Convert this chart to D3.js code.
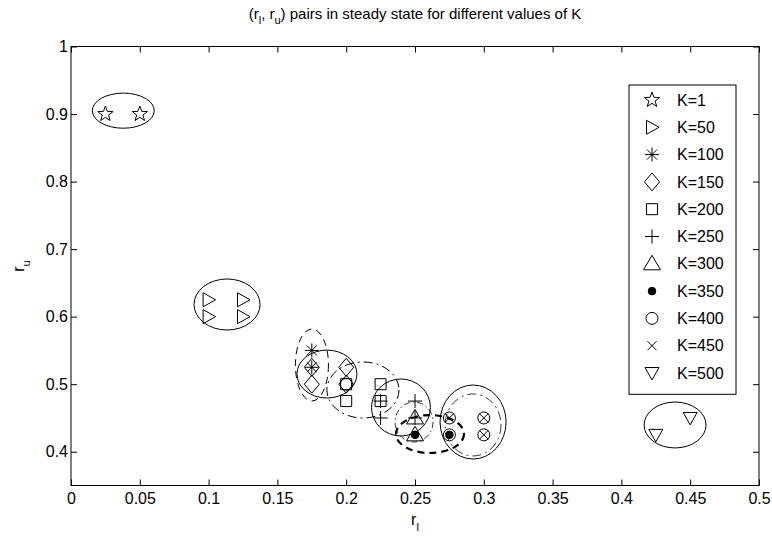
<!DOCTYPE html>
<html>
<head>
<meta charset="utf-8">
<script src="https://cdn.jsdelivr.net/npm/d3@7"></script>
<style>
  body { margin: 0; background: #fff; }
  svg text { font-family: "Liberation Sans", Arial, Helvetica, sans-serif; fill: #000; }
</style>
</head>
<body>
<div id="chart"></div>
<script>
// chart data
const kLabels = ["K=1", "K=50", "K=100", "K=150", "K=200", "K=250", "K=300", "K=350", "K=400", "K=450", "K=500"];
const markerKinds = ["star", "tri-right", "asterisk", "diamond", "square", "plus", "tri-up", "dot", "circle", "cross", "tri-down"];

// (r_l, r_u) pairs for each K
const ptsK1   = [[0.025, 0.9], [0.05, 0.9]];
const ptsK50  = [[0.1, 0.6], [0.1, 0.625], [0.125, 0.6], [0.125, 0.625]];
const ptsK100 = [[0.175, 0.55], [0.175, 0.525]];
const ptsK150 = [[0.175, 0.525], [0.175, 0.5], [0.2, 0.525], [0.2, 0.5]];
const ptsK200 = [[0.2, 0.5], [0.2, 0.475], [0.225, 0.5], [0.225, 0.475]];
const ptsK250 = [[0.225, 0.475], [0.225, 0.45], [0.25, 0.475], [0.25, 0.45]];
const ptsK300 = [[0.25, 0.45], [0.25, 0.425]];
const ptsK350 = [[0.25, 0.425], [0.275, 0.425]];
const ptsK400 = [[0.2, 0.5], [0.275, 0.45], [0.3, 0.45], [0.275, 0.425], [0.3, 0.425]];
const ptsK450 = [[0.275, 0.45], [0.3, 0.45], [0.3, 0.425]];
const ptsK500 = [[0.425, 0.425], [0.45, 0.45]];

// ellipses drawn round each group (centre and radii in data units)
const ellCx = [0.038, 0.1134, 0.1751, 0.186, 0.2122, 0.2398, 0.2493, 0.2609, 0.2922, 0.2922, 0.439];
const ellCy = [0.905, 0.618, 0.5284, 0.515, 0.4914, 0.4655, 0.444, 0.4262, 0.444, 0.4396, 0.4396];
const ellRx = [0.0225, 0.024, 0.012, 0.0218, 0.0262, 0.0214, 0.0138, 0.0247, 0.024, 0.0203, 0.0225];
const ellRy = [0.026, 0.0378, 0.0533, 0.0355, 0.0415, 0.0422, 0.0296, 0.0281, 0.0548, 0.0459, 0.034];

const xTicks = [0, 0.05, 0.1, 0.15, 0.2, 0.25, 0.3, 0.35, 0.4, 0.45, 0.5];
const yTicks = [0.4, 0.5, 0.6, 0.7, 0.8, 0.9, 1];

const allPts = [ptsK1, ptsK50, ptsK100, ptsK150, ptsK200, ptsK250, ptsK300, ptsK350, ptsK400, ptsK450, ptsK500];

const W = 772, H = 539;
const margin = {top: 46.5, right: 13, bottom: 53.5, left: 71};
const width = W - margin.left - margin.right,
      height = H - margin.top - margin.bottom;
const fs = 16;

const svg = d3.select("#chart")
    .append("svg")
    .attr("width", W)
    .attr("height", H);

const g = svg.append("g")
    .attr("transform", `translate(${margin.left}, ${margin.top})`);

const x = d3.scaleLinear().domain([0, 0.5]).range([0, width]);
const y = d3.scaleLinear().domain([0.35, 1]).range([height, 0]);

// marker shapes, in pixels round (0,0)
function markerPath(kind) {
    const p = d3.path();
    if (kind == "star") {
        const R = 8, r = 3.3;
        for (let i = 0; i < 10; i++) {
            const a = -Math.PI / 2 + i * Math.PI / 5;
            const rr = i % 2 == 0 ? R : r;
            if (i == 0) p.moveTo(rr * Math.cos(a), rr * Math.sin(a));
            else p.lineTo(rr * Math.cos(a), rr * Math.sin(a));
        }
        p.closePath();
    } else if (kind == "tri-right") {
        p.moveTo(-5.5, -7); p.lineTo(7, 0); p.lineTo(-5.5, 7); p.closePath();
    } else if (kind == "tri-up") {
        p.moveTo(0, -8.5); p.lineTo(8.5, 6); p.lineTo(-8.5, 6); p.closePath();
    } else if (kind == "tri-down") {
        p.moveTo(-7, -5.5); p.lineTo(7, -5.5); p.lineTo(0, 7); p.closePath();
    } else if (kind == "diamond") {
        p.moveTo(0, -9); p.lineTo(7.5, 0); p.lineTo(0, 9); p.lineTo(-7.5, 0); p.closePath();
    } else if (kind == "square") {
        p.rect(-5.5, -5.5, 11, 11);
    } else if (kind == "plus") {
        p.moveTo(-7, 0); p.lineTo(7, 0); p.moveTo(0, -7); p.lineTo(0, 7);
    } else if (kind == "cross") {
        p.moveTo(-4.5, -4.5); p.lineTo(4.5, 4.5); p.moveTo(-4.5, 4.5); p.lineTo(4.5, -4.5);
    } else if (kind == "asterisk") {
        p.moveTo(-7, 0); p.lineTo(7, 0); p.moveTo(0, -7); p.lineTo(0, 7);
        p.moveTo(-5, -5); p.lineTo(5, 5); p.moveTo(-5, 5); p.lineTo(5, -5);
    } else if (kind == "circle") {
        p.moveTo(6, 0); p.arc(0, 0, 6, 0, 2 * Math.PI);
    } else if (kind == "dot") {
        p.moveTo(3.8, 0); p.arc(0, 0, 3.8, 0, 2 * Math.PI);
    }
    return p.toString();
}

// ellipse line styles per K
const ellDash = ["", "", "7,5", "", "9,4,2,4", "", "6,3,1.5,3", "7,5", "", "9,4,2,4", ""];
const ellWidth = [1, 1, 1, 1, 1, 1, 0.8, 2.2, 1, 0.8, 1];

// axes box with ticks pointing inward, ticks on all four sides
const tickLen = 6;
g.append("g")
    .attr("transform", `translate(0, ${height})`)
    .call(d3.axisBottom(x).tickValues(xTicks).tickSizeInner(-tickLen).tickSizeOuter(0).tickPadding(7)
        .tickFormat(d => d3.format("")(d)))
    .call(a => a.select(".domain").remove())
    .call(a => a.selectAll("text").attr("font-size", fs));

g.append("g")
    .call(d3.axisTop(x).tickValues(xTicks).tickSizeInner(-tickLen).tickSizeOuter(0).tickFormat(""))
    .call(a => a.select(".domain").remove());

g.append("g")
    .call(d3.axisLeft(y).tickValues(yTicks).tickSizeInner(-tickLen).tickSizeOuter(0).tickPadding(3)
        .tickFormat(d => d3.format("")(d)))
    .call(a => a.select(".domain").remove())
    .call(a => a.selectAll("text").attr("font-size", fs));

g.append("g")
    .attr("transform", `translate(${width}, 0)`)
    .call(d3.axisRight(y).tickValues(yTicks).tickSizeInner(-tickLen).tickSizeOuter(0).tickFormat(""))
    .call(a => a.select(".domain").remove());

g.selectAll(".tick line").attr("stroke", "#000");

g.append("rect")
    .attr("width", width)
    .attr("height", height)
    .attr("fill", "none")
    .attr("stroke", "#000")
    .attr("stroke-width", 1);

// ellipses
g.selectAll(".ell")
    .data(d3.range(ellCx.length))
    .enter().append("ellipse")
    .attr("class", "ell")
    .attr("cx", i => x(ellCx[i]))
    .attr("cy", i => y(ellCy[i]))
    .attr("rx", i => x(ellRx[i]) - x(0))
    .attr("ry", i => y(0) - y(ellRy[i]))
    .attr("fill", "none")
    .attr("stroke", "#000")
    .attr("stroke-width", i => ellWidth[i])
    .attr("stroke-dasharray", i => ellDash[i] || null);

// markers
allPts.forEach(function(pts, k) {
    const kind = markerKinds[k];
    g.selectAll(".m" + k)
        .data(pts)
        .enter().append("path")
        .attr("class", "m" + k)
        .attr("transform", d => `translate(${x(d[0])}, ${y(d[1])})`)
        .attr("d", markerPath(kind))
        .attr("fill", kind == "dot" ? "#000" : "none")
        .attr("stroke", "#000")
        .attr("stroke-width", 1);
});

// legend
const legX = 629, legY = 85, legW = 107, rowH = 27.3;
const leg = svg.append("g");
leg.append("rect")
    .attr("x", legX).attr("y", legY)
    .attr("width", legW).attr("height", rowH * kLabels.length + 9)
    .attr("fill", "#fff").attr("stroke", "#000");
kLabels.forEach(function(lab, k) {
    const cy = legY + 15 + k * rowH;
    const kind = markerKinds[k];
    leg.append("path")
        .attr("transform", `translate(${legX + 23}, ${cy})`)
        .attr("d", markerPath(kind))
        .attr("fill", kind == "dot" ? "#000" : "none")
        .attr("stroke", "#000");
    leg.append("text")
        .attr("x", legX + 48).attr("y", cy)
        .attr("dy", "0.35em")
        .attr("font-size", fs)
        .text(lab);
});

// title and axis labels
const title = svg.append("text")
    .attr("x", margin.left + width / 2).attr("y", 19)
    .attr("text-anchor", "middle")
    .attr("font-size", 15);
title.append("tspan").text("(r");
title.append("tspan").attr("font-size", 11).attr("dy", 5).text("l");
title.append("tspan").attr("dy", -5).text(", r");
title.append("tspan").attr("font-size", 11).attr("dy", 5).text("u");
title.append("tspan").attr("dy", -5).text(") pairs in steady state for different values of K");

const xl = svg.append("text")
    .attr("x", margin.left + width / 2).attr("y", 525)
    .attr("text-anchor", "middle")
    .attr("font-size", fs);
xl.append("tspan").text("r");
xl.append("tspan").attr("font-size", 11).attr("dy", 6).text("l");

const yl = svg.append("text")
    .attr("transform", `translate(24, ${margin.top + height / 2}) rotate(-90)`)
    .attr("text-anchor", "middle")
    .attr("font-size", fs);
yl.append("tspan").text("r");
yl.append("tspan").attr("font-size", 11).attr("dy", 6).text("u");
</script>
</body>
</html>
